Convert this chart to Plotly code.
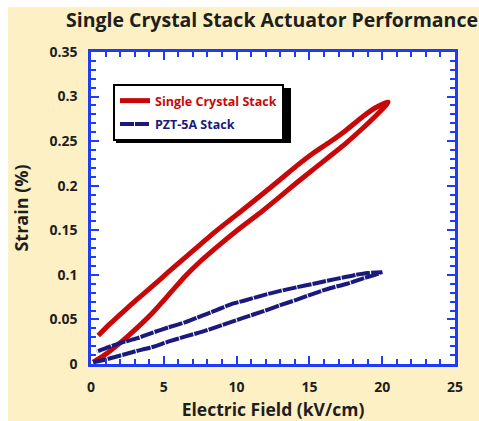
import plotly.graph_objects as go

# Single crystal stack: field ramp up, then back down (hysteresis loop)
sc_field_up = [0.15, 1.1, 2.1, 3.2, 4.2, 5.3, 6.5, 7.5, 8.7, 10.2, 11.8, 13.0, 14.1, 15.4, 16.4, 17.6, 18.7, 19.6, 20.3]
sc_strain_up = [0.002, 0.012, 0.025, 0.041, 0.057, 0.077, 0.099, 0.115, 0.132, 0.152, 0.172, 0.188, 0.203, 0.220, 0.233, 0.249, 0.265, 0.279, 0.291]
sc_field_down = [20.4, 19.6, 18.7, 17.5, 16.4, 15.3, 14.1, 13.0, 11.8, 10.2, 9.5, 8.5, 7.5, 6.5, 5.3, 4.2, 3.2, 2.3, 1.3, 0.5]
sc_strain_down = [0.294, 0.288, 0.278, 0.262, 0.249, 0.237, 0.222, 0.207, 0.191, 0.170, 0.161, 0.148, 0.134, 0.120, 0.103, 0.087, 0.073, 0.060, 0.045, 0.032]

# PZT-5A stack loop
pzt_field_up = [0.15, 1.0, 1.9, 3.0, 4.2, 5.3, 6.5, 7.6, 8.7, 9.6, 10.5, 11.8, 13.0, 14.1, 15.3, 16.4, 17.6, 18.7, 19.5, 20.0]
pzt_strain_up = [0.002, 0.005, 0.009, 0.014, 0.019, 0.025, 0.031, 0.036, 0.042, 0.047, 0.052, 0.059, 0.066, 0.072, 0.079, 0.085, 0.090, 0.096, 0.100, 0.103]
pzt_field_down = [20.0, 19.0, 18.2, 17.3, 16.4, 15.3, 14.1, 13.0, 11.8, 10.5, 9.6, 8.7, 7.6, 6.5, 5.3, 4.2, 3.2, 2.1, 1.2, 0.4]
pzt_strain_down = [0.103, 0.102, 0.100, 0.097, 0.094, 0.090, 0.086, 0.082, 0.077, 0.071, 0.067, 0.061, 0.054, 0.047, 0.041, 0.035, 0.029, 0.024, 0.019, 0.014]

x_ticks = [0, 5, 10, 15, 20, 25]
y_ticks = [0, 0.05, 0.1, 0.15, 0.2, 0.25, 0.3, 0.35]
y_tick_text = ["0", "0.05", "0.1", "0.15", "0.2", "0.25", "0.3", "0.35"]

RED = "#C80808"
NAVY = "#1A1A7E"
FRAME = "#1E3CF5"
CREAM = "#FCF0C4"
INK = "#1E1E1E"
FONT = "Open Sans"

W, H = 479, 421
L, R, T, B = 91, 24, 52, 57

fig = go.Figure()
fig.add_trace(go.Scatter(
    x=sc_field_up + sc_field_down, y=sc_strain_up + sc_strain_down,
    mode="lines", line=dict(color=RED, width=5, shape="spline", smoothing=0.6),
    name=f"<span style='color:{RED}'>Single Crystal Stack</span>",
    legendgroup="sc",
))
fig.add_trace(go.Scatter(
    x=pzt_field_up + pzt_field_down, y=pzt_strain_up + pzt_strain_down,
    mode="lines", line=dict(color=NAVY, width=4, shape="spline", smoothing=0.6, dash="14px,1px"),
    name=f"<span style='color:{NAVY}'>PZT-5A Stack</span>",
    legendgroup="pzt",
))

axis_common = dict(
    showline=True, linecolor=FRAME, linewidth=2.5, mirror="allticks",
    ticks="inside", ticklen=8, tickwidth=1.5, tickcolor=FRAME,
    showgrid=False, zeroline=False,
    tickfont=dict(family=FONT, size=14, color=INK, weight="bold"),
    ticklabelstandoff=8,
)

fig.update_xaxes(
    range=[0, 25], tickvals=x_ticks, ticktext=[str(v) for v in x_ticks],
    minor=dict(ticks="inside", ticklen=5, tickwidth=1.5, tickcolor=FRAME, dtick=1, showgrid=False),
    title=dict(text="Electric Field (kV/cm)", standoff=11,
               font=dict(family=FONT, size=17.5, color=INK, weight="bold")),
    **axis_common,
)
fig.update_yaxes(
    range=[0, 0.35], tickvals=y_ticks, ticktext=y_tick_text,
    minor=dict(ticks="inside", ticklen=5, tickwidth=1.5, tickcolor=FRAME, dtick=0.01, showgrid=False),
    title=dict(text="Strain (%)", standoff=17,
               font=dict(family=FONT, size=18, color=INK, weight="bold")),
    **axis_common,
)

def px_x(p):
    return (p - L) / (W - L - R)

def px_y(q):
    return (H - B - q) / (H - T - B)

shapes = [
    # white strips along the top and left edges
    dict(type="rect", xref="paper", yref="paper", layer="below",
         x0=px_x(0), x1=px_x(8), y0=px_y(H), y1=px_y(0), fillcolor="white", line_width=0),
    dict(type="rect", xref="paper", yref="paper", layer="below",
         x0=px_x(0), x1=px_x(W), y0=px_y(7), y1=px_y(0), fillcolor="white", line_width=0),
    # legend drop shadow
    dict(type="rect", xref="paper", yref="paper", layer="above",
         x0=px_x(116), x1=px_x(291), y0=px_y(143), y1=px_y(88), fillcolor="black", line_width=0),
]

fig.update_layout(
    width=W, height=H,
    margin=dict(l=L, r=R, t=T, b=B, autoexpand=False),
    paper_bgcolor=CREAM, plot_bgcolor="white",
    title=dict(text="Single Crystal Stack Actuator Performance",
               x=66 / W, xanchor="left", xref="container",
               y=1 - 20 / H, yanchor="middle", yref="container",
               font=dict(family=FONT, size=19.5, color=INK, weight="bold")),
    showlegend=True,
    legend=dict(x=px_x(113), y=px_y(84), xanchor="left", yanchor="top",
                bgcolor="white", bordercolor="black", borderwidth=2,
                font=dict(family=FONT, size=12.5, weight="bold"),
                traceorder="grouped", tracegroupgap=4),
    shapes=shapes,
)

fig.write_html("out.html")
